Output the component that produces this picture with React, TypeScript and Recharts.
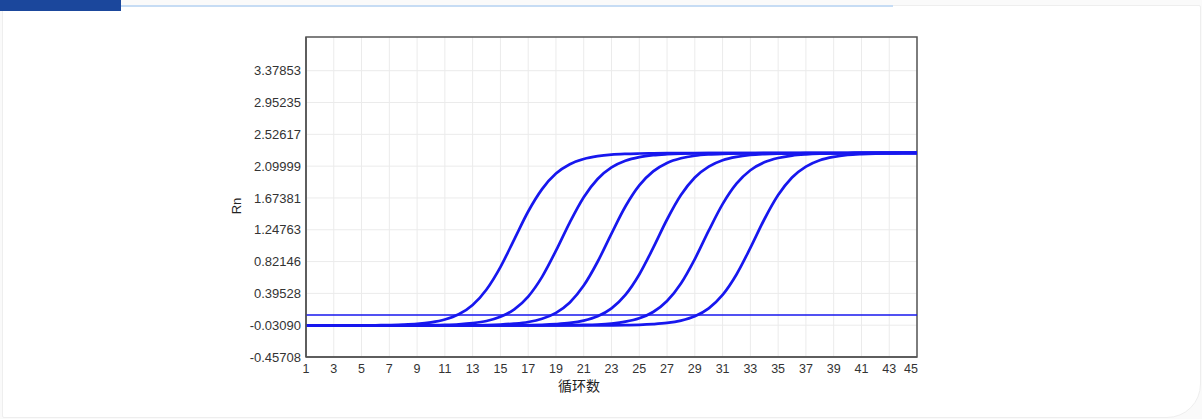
import { LineChart, Line, XAxis, YAxis, CartesianGrid, ReferenceLine, ReferenceArea, Label } from 'recharts';

// amplification curves, one value per cycle (1..45)
const cycles = Array.from({ length: 45 }, (_, i) => i + 1);

const curveA = [
  -0.035, -0.035, -0.035, -0.034, -0.034, -0.032, -0.029, -0.024, -0.014, 0.007,
  0.045, 0.115, 0.24, 0.448, 0.748, 1.12, 1.492, 1.792, 2.0, 2.125,
  2.195, 2.233, 2.254, 2.264, 2.269, 2.272, 2.273, 2.274, 2.274, 2.275,
  2.275, 2.275, 2.275, 2.275, 2.275, 2.275, 2.276, 2.276, 2.276, 2.276,
  2.276, 2.277, 2.277, 2.277, 2.277,
];
const curveB = [
  -0.035, -0.035, -0.035, -0.035, -0.035, -0.035, -0.035, -0.034, -0.033, -0.031,
  -0.027, -0.019, -0.003, 0.026, 0.082, 0.182, 0.353, 0.617, 0.967, 1.348,
  1.684, 1.928, 2.083, 2.172, 2.221, 2.247, 2.26, 2.268, 2.271, 2.273,
  2.274, 2.274, 2.275, 2.275, 2.275, 2.275, 2.276, 2.276, 2.276, 2.276,
  2.277, 2.277, 2.277, 2.277, 2.277,
];
const curveC = [
  -0.035, -0.035, -0.035, -0.035, -0.035, -0.035, -0.035, -0.035, -0.035, -0.035,
  -0.034, -0.033, -0.032, -0.029, -0.022, -0.01, 0.012, 0.056, 0.135, 0.274,
  0.5, 0.819, 1.197, 1.559, 1.842, 2.03, 2.143, 2.205, 2.239, 2.256,
  2.265, 2.27, 2.272, 2.274, 2.274, 2.275, 2.275, 2.276, 2.276, 2.276,
  2.277, 2.277, 2.277, 2.278, 2.278,
];
const curveD = [
  -0.035, -0.035, -0.035, -0.035, -0.035, -0.035, -0.035, -0.035, -0.035, -0.035,
  -0.035, -0.035, -0.035, -0.035, -0.034, -0.033, -0.03, -0.026, -0.017, -0.001,
  0.031, 0.089, 0.195, 0.375, 0.649, 1.005, 1.385, 1.712, 1.948, 2.094,
  2.179, 2.224, 2.249, 2.261, 2.268, 2.271, 2.273, 2.274, 2.275, 2.275,
  2.276, 2.276, 2.277, 2.277, 2.278,
];
const curveE = [
  -0.035, -0.035, -0.035, -0.035, -0.035, -0.035, -0.035, -0.035, -0.035, -0.035,
  -0.035, -0.035, -0.035, -0.035, -0.035, -0.035, -0.035, -0.035, -0.033, -0.031,
  -0.028, -0.022, -0.009, 0.016, 0.062, 0.146, 0.293, 0.528, 0.855, 1.235,
  1.591, 1.865, 2.045, 2.151, 2.209, 2.241, 2.257, 2.266, 2.27, 2.272,
  2.273, 2.274, 2.275, 2.276, 2.277,
];
const curveF = [
  -0.035, -0.035, -0.035, -0.035, -0.035, -0.035, -0.035, -0.035, -0.035, -0.035,
  -0.035, -0.035, -0.035, -0.035, -0.035, -0.035, -0.035, -0.035, -0.035, -0.035,
  -0.035, -0.035, -0.033, -0.03, -0.026, -0.017, -0.001, 0.031, 0.089, 0.195,
  0.375, 0.649, 1.005, 1.385, 1.712, 1.948, 2.094, 2.179, 2.224, 2.249,
  2.261, 2.268, 2.271, 2.273, 2.274,
];

const threshold = 0.105;

const yTicks = [-0.45708, -0.0309, 0.39528, 0.82146, 1.24763, 1.67381, 2.09999, 2.52617, 2.95235, 3.37853];
const xTicks = cycles.filter((c) => c % 2 === 1);
const xDomain = [1, 45];
const yDomain = [-0.45708, 3.83];

const series = [curveA, curveB, curveC, curveD, curveE, curveF];
const data = cycles.map((c, i) => {
  const row: Record<string, number> = { cycle: c };
  series.forEach((s, k) => {
    row['s' + k] = s[i];
  });
  return row;
});

const BLUE = '#1717ee';
const FONT = '"Liberation Sans", Arial, sans-serif';
const tickStyle = { fontSize: 13, fill: '#333', fontFamily: FONT };

// last x label sits flush against the right frame
function XTick(props: any) {
  const { x, y, payload } = props;
  const last = payload.value === xTicks[xTicks.length - 1];
  return (
    <text x={last ? x + 1 : x} y={y - 1} dy="0.71em" textAnchor={last ? 'end' : 'middle'} fontSize={12.5} fill="#333" fontFamily={FONT}>
      {payload.value}
    </text>
  );
}

export default function App() {
  return (
    <div style={{ position: 'fixed', left: 0, top: 0, width: 1202, height: 419, background: '#fafafa', overflow: 'hidden' }}>
      <div
        style={{
          position: 'absolute', left: 2, top: 5, width: 1197, height: 411,
          background: '#fff', border: '1px solid #eeeeee', borderRadius: '2px 2px 34px 2px',
        }}
      />
      <div style={{ position: 'absolute', left: 0, top: 0, width: 121, height: 11, background: '#1b479c' }} />
      <div style={{ position: 'absolute', left: 121, top: 5, width: 772, height: 2, background: '#c6dcf4' }} />
      <div style={{ position: 'absolute', left: 0, top: 0 }}>
        <LineChart width={1202} height={419} data={data} margin={{ top: 37, right: 285, bottom: 28, left: 0 }}>
          <CartesianGrid stroke="#ebebeb" strokeWidth={1} horizontalValues={yTicks} verticalValues={xTicks} />
          <XAxis
            dataKey="cycle"
            type="number"
            domain={xDomain}
            ticks={xTicks}
            interval={0}
            height={34}
            tickLine={false}
            tick={<XTick />}
            axisLine={{ stroke: '#555', strokeWidth: 1.5 }}
          >
            <Label
              content={() => (
                <text x={579} y={391} textAnchor="middle" fontSize={14} fill="#222" fontFamily='"Noto Sans CJK SC", sans-serif'>
                  循环数
                </text>
              )}
            />
          </XAxis>
          <YAxis
            type="number"
            domain={yDomain}
            ticks={yTicks}
            interval={0}
            width={306}
            tickLine={false}
            tickSize={2}
            tickMargin={3}
            tick={tickStyle}
            tickFormatter={(v: number) => v.toFixed(5)}
            axisLine={{ stroke: '#555', strokeWidth: 1.5 }}
          >
            <Label
              content={() => (
                <text x={241} y={206} transform="rotate(-90 241 206)" textAnchor="middle" fontSize={13} fill="#222" fontFamily={FONT}>
                  Rn
                </text>
              )}
            />
          </YAxis>
          <ReferenceArea
            x1={xDomain[0]}
            x2={xDomain[1]}
            y1={yDomain[0]}
            y2={yDomain[1]}
            fill="none"
            stroke="#555"
            strokeWidth={1.5}
            ifOverflow="visible"
          />
          <ReferenceLine y={threshold} stroke={BLUE} strokeWidth={1.6} />
          {series.map((_, k) => (
            <Line
              key={k}
              type="monotone"
              dataKey={'s' + k}
              stroke={BLUE}
              strokeWidth={2.7}
              dot={false}
              activeDot={false}
              isAnimationActive={false}
            />
          ))}
        </LineChart>
      </div>
    </div>
  );
}
